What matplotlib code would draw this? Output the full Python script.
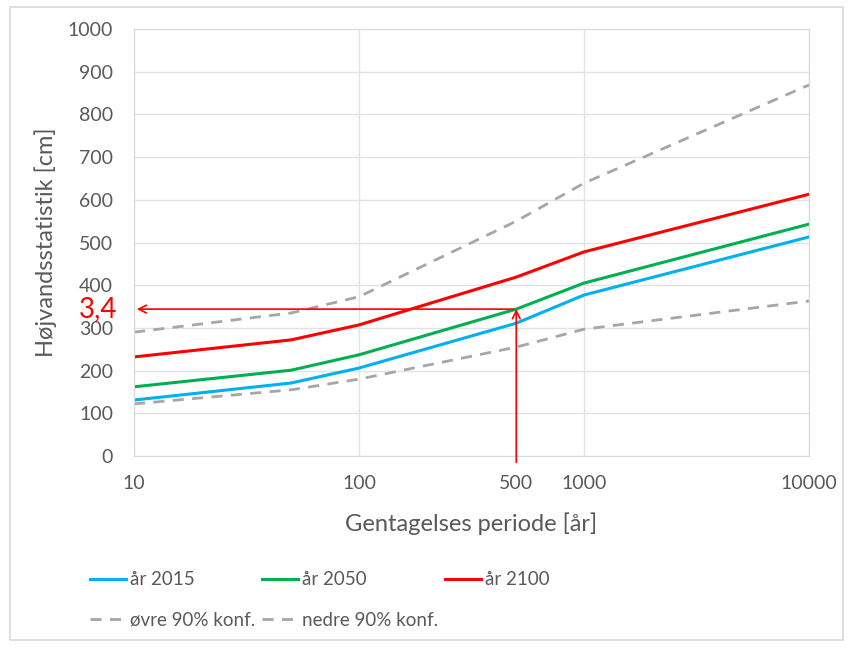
import numpy as np
import matplotlib
matplotlib.use("Agg")
import matplotlib.pyplot as plt
from matplotlib.patches import Rectangle

plt.rcParams['font.family'] = ['Lato', 'DejaVu Sans']

# Gentagelsesperiode [år] og højvande [cm]
perioder = [10, 50, 100, 500, 1000, 10000]
aar2015 = [131, 171, 206, 311, 377, 513]
aar2050 = [162, 201, 237, 344, 405, 543]
aar2100 = [232, 272, 307, 419, 478, 613]
oevre90 = [290, 335, 373, 550, 639, 869]
nedre90 = [122, 155, 180, 255, 297, 363]

xticks = [10, 100, 500, 1000, 10000]
yticks = list(range(0, 1001, 100))

aflaest_periode = 500
aflaest_vaerdi = 344
aflaest_tekst = "3,4"

tekstfarve = "#595959"

fig = plt.figure(figsize=(8.53, 6.5), dpi=100)
fig.patches.append(Rectangle((10/853, 10/650), 833/853, 633/650, transform=fig.transFigure,
                             fill=False, edgecolor="#D9D9D9", linewidth=1.2))
ax = fig.add_axes([134/853, 1-456/650, 675/853, 427/650])

l1, = ax.plot(perioder, aar2015, color="#00B0F0", lw=2.2, label="år 2015")
l2, = ax.plot(perioder, aar2050, color="#00B050", lw=2.2, label="år 2050")
l3, = ax.plot(perioder, aar2100, color="#FF0000", lw=2.2, label="år 2100")
l4, = ax.plot(perioder, oevre90, color="#A6A6A6", lw=2.0, ls=(0, (4, 3)), label="øvre 90% konf.")
l5, = ax.plot(perioder, nedre90, color="#A6A6A6", lw=2.0, ls=(0, (4, 3)), label="nedre 90% konf.")

ax.set_xscale("log")
ax.set_xlim(10, 10000)
ax.set_ylim(0, 1000)
ax.set_xticks(xticks)
ax.set_xticklabels([str(t) for t in xticks])
ax.xaxis.set_minor_locator(matplotlib.ticker.NullLocator())
ax.set_yticks(yticks)
ax.tick_params(axis="both", length=0, labelsize=14, colors=tekstfarve)
ax.tick_params(axis="x", pad=14)
ax.tick_params(axis="y", pad=15)

# gitter
for t in [10, 100, 1000, 10000]:
    ax.axvline(t, color="#E3E3E3", lw=1, zorder=0)
ax.grid(axis="y", color="#E3E3E3", lw=1, zorder=0)
for s in ax.spines.values():
    s.set_color("#D9D9D9")

ax.set_xlabel("Gentagelses periode [år]", fontsize=17, color=tekstfarve, labelpad=14)
ax.set_ylabel("Højvandsstatistik [cm]", fontsize=17, color=tekstfarve, labelpad=8)

# aflæsning
ax.annotate("", xy=(10, aflaest_vaerdi), xytext=(aflaest_periode, aflaest_vaerdi),
            arrowprops=dict(arrowstyle="->", color="red", lw=1.2, mutation_scale=14),
            annotation_clip=False)
ax.annotate("", xy=(aflaest_periode, aflaest_vaerdi), xytext=(aflaest_periode, -15),
            arrowprops=dict(arrowstyle="->", color="red", lw=1.2, mutation_scale=14,
                            shrinkA=0, shrinkB=0),
            annotation_clip=False)
ax.text(-0.025, aflaest_vaerdi, aflaest_tekst, color="red", fontsize=20,
        ha="right", va="center", transform=ax.get_yaxis_transform())

leg = ax.legend(handles=[l1, l4, l2, l5, l3], ncol=3, loc="upper left",
                bbox_to_anchor=(-0.09, -0.23), frameon=False, fontsize=13.5,
                handlelength=1.9, handletextpad=0.25, columnspacing=0.35,
                labelspacing=1.25, labelcolor=tekstfarve)

fig.savefig("out.png", dpi=100)
